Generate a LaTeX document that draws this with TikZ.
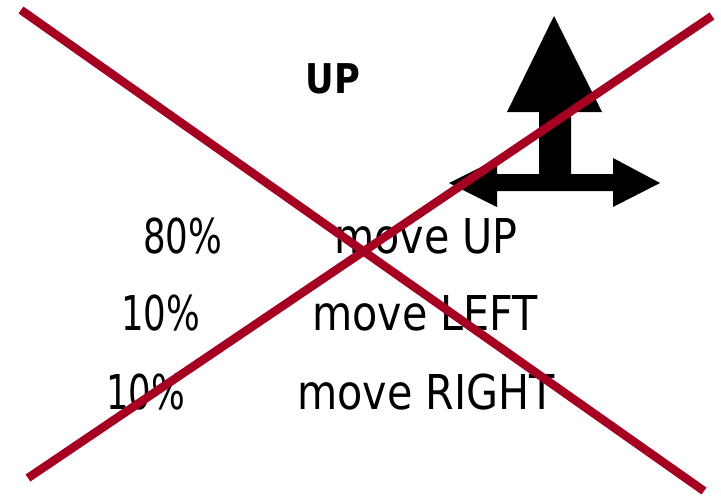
\documentclass[tikz,border=0pt]{standalone}
\usepackage{fontspec}
\setmainfont{DejaVu Sans}[FakeStretch=0.86]
\newfontfamily\numfont{DejaVu Sans}[FakeStretch=0.74]
\definecolor{xred}{RGB}{165,0,33}
\begin{document}
\begin{tikzpicture}[x=1pt,y=-1pt,
  lbl/.style={inner sep=0pt,anchor=base west,font=\fontsize{48}{50}\selectfont},
  num/.style={lbl,font=\fontsize{48}{50}\selectfont\numfont},
  cross/.style={draw=xred,line width=8.5pt,line cap=butt}]
\useasboundingbox (0,0) rectangle (721,498);
% arrow symbol
\fill[black] (554,16) -- (602,112) -- (571,112) -- (571,174) -- (613,174) -- (613,158)
  -- (660,183) -- (613,207) -- (613,191) -- (497,191) -- (497,207) -- (449,183)
  -- (497,159) -- (497,174) -- (539,174) -- (539,112) -- (507,112) -- cycle;
% texts
\node[inner sep=0pt,anchor=base,font=\fontsize{41}{43}\selectfont\bfseries] (up) at (333,93) {UP};
\node[num] (p1) at (143,253) {80\%};
\node[lbl] (m1) at (334,253) {move UP};
\node[num] (p2) at (121,330) {10\%};
\node[lbl] (m2) at (312,330) {move LEFT};
\node[num] (p3) at (106,409) {10\%};
\node[lbl] (m3) at (297,409) {move RIGHT};
% cross
\coordinate (a1) at (21,10);
\coordinate (a2) at (704,491);
\coordinate (b1) at (28,478);
\coordinate (b2) at (712,16);
\draw[cross] (a1) -- (a2);
\draw[cross] (b1) -- (b2);
\end{tikzpicture}
\end{document}
